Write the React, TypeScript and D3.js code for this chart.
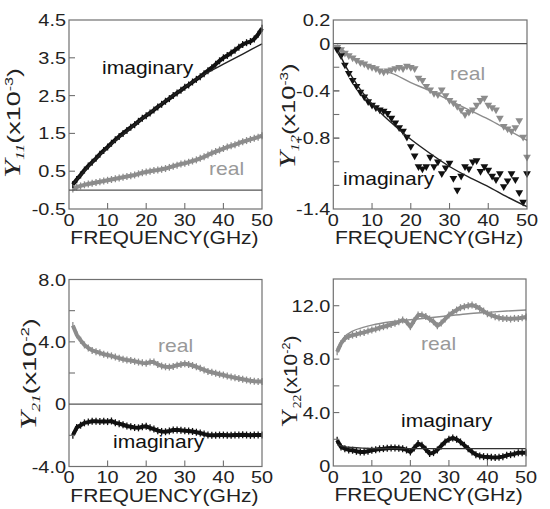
import React from "react";
import * as d3 from "d3";

// ---------- data ----------
const FREQ = [1,2,3,4,5,6,7,8,9,10,11,12,13,14,15,16,17,18,19,20,21,22,23,24,25,26,27,28,29,30,31,32,33,34,35,36,37,38,39,40,41,42,43,44,45,46,47,48,49,50];
const X_TICK_LABELS = [0, 10, 20, 30, 40, 50];
const X_TICKS = [10, 20, 30, 40];

// Y11 (x10^-3)
const Y11_IMAG = [0.15,0.28,0.4,0.53,0.64,0.74,0.84,0.95,1.05,1.14,1.24,1.33,1.42,1.5,1.58,1.66,1.73,1.82,1.9,1.97,2.04,2.12,2.2,2.27,2.35,2.42,2.5,2.57,2.64,2.72,2.78,2.86,2.93,3.0,3.08,3.16,3.24,3.33,3.42,3.5,3.56,3.63,3.7,3.78,3.85,3.9,3.93,4.0,4.12,4.28];
const Y11_REAL = [0.03,0.08,0.11,0.14,0.16,0.18,0.2,0.22,0.24,0.26,0.28,0.3,0.32,0.34,0.36,0.38,0.4,0.43,0.46,0.48,0.5,0.52,0.53,0.55,0.57,0.6,0.63,0.66,0.69,0.71,0.74,0.77,0.8,0.84,0.88,0.93,0.98,1.02,1.06,1.1,1.14,1.17,1.2,1.24,1.28,1.31,1.34,1.37,1.4,1.44];
const Y11_FIT_F = [1, 5, 10, 20, 30, 35, 40, 45, 50];
const Y11_IMAG_FIT = [0.15, 0.62, 1.12, 1.97, 2.72, 3.06, 3.33, 3.6, 3.87];
const Y11_TICKS = [4.5, 3.5, 2.5, 1.5, 0.5, -0.5];

// Y12 (x10^-3)
const Y12_IMAG = [-0.05,-0.1,-0.18,-0.25,-0.31,-0.36,-0.41,-0.45,-0.49,-0.52,-0.54,-0.56,-0.57,-0.59,-0.63,-0.67,-0.71,-0.74,-0.79,-0.87,-0.95,-1.04,-1.06,-1.04,-0.96,-1.04,-1.0,-1.1,-1.05,-1.01,-1.14,-1.24,-1.12,-1.04,-1.06,-1.0,-0.99,-1.08,-1.04,-1.07,-1.12,-1.15,-1.1,-1.21,-1.16,-1.1,-1.15,-1.26,-1.34,-1.1];
const Y12_REAL = [-0.03,-0.05,-0.08,-0.1,-0.12,-0.14,-0.16,-0.17,-0.19,-0.2,-0.21,-0.23,-0.24,-0.23,-0.22,-0.21,-0.2,-0.21,-0.19,-0.2,-0.21,-0.29,-0.31,-0.36,-0.39,-0.42,-0.43,-0.39,-0.44,-0.48,-0.5,-0.53,-0.56,-0.6,-0.58,-0.56,-0.52,-0.48,-0.46,-0.52,-0.54,-0.56,-0.63,-0.7,-0.72,-0.74,-0.71,-0.65,-0.79,-0.96];
const Y12_FIT_F = [1, 3, 5, 7, 10, 13, 15, 20, 25, 30, 35, 40, 45, 50];
const Y12_IMAG_FIT = [-0.04,-0.18,-0.29,-0.39,-0.51,-0.61,-0.67,-0.81,-0.93,-1.04,-1.13,-1.21,-1.3,-1.38];
const Y12_REAL_FIT = [-0.01,-0.07,-0.12,-0.16,-0.2,-0.23,-0.25,-0.33,-0.4,-0.48,-0.56,-0.64,-0.73,-0.82];
const Y12_TICKS = [0.2, 0, -0.4, -0.8, -1.4];
const Y12_MINOR = [-0.2, -0.4, -0.6, -0.8, -1.0, -1.2];

// Y21 (x10^-2)
const Y21_REAL = [5.05,4.45,4.1,3.8,3.6,3.45,3.37,3.3,3.2,3.15,3.1,3.02,2.95,2.88,2.83,2.8,2.75,2.7,2.65,2.62,2.7,2.7,2.55,2.45,2.4,2.38,2.42,2.5,2.55,2.6,2.55,2.48,2.4,2.3,2.2,2.1,2.05,1.98,1.92,1.87,1.8,1.75,1.7,1.65,1.6,1.55,1.5,1.47,1.46,1.46];
const Y21_IMAG = [-2.0,-1.5,-1.35,-1.2,-1.15,-1.1,-1.1,-1.12,-1.1,-1.12,-1.08,-1.2,-1.25,-1.32,-1.4,-1.45,-1.5,-1.52,-1.45,-1.42,-1.52,-1.6,-1.7,-1.75,-1.77,-1.72,-1.65,-1.65,-1.68,-1.7,-1.72,-1.75,-1.8,-1.85,-1.92,-1.98,-2.0,-2.0,-1.98,-1.98,-2.0,-2.0,-1.98,-1.98,-1.97,-1.98,-2.0,-1.98,-1.98,-1.98];
const Y21_TICKS = [8, 4, 0, -4];
const Y21_TICK_TEXT = ["8.0", "4.0", "0", "-4.0"];
const Y21_MINOR = [6, 2, -2];

// Y22 (x10^-2)
const Y22_REAL = [8.55,9.18,9.55,9.7,9.8,9.85,9.95,10.0,10.1,10.18,10.25,10.35,10.43,10.5,10.6,10.68,10.8,10.93,10.8,10.43,10.9,11.3,11.3,11.2,11.0,10.8,10.5,10.7,11.0,11.3,11.5,11.68,11.85,11.93,12.0,12.05,11.95,11.8,11.6,11.4,11.3,11.18,11.1,11.05,11.05,11.0,11.05,11.05,11.1,11.15];
const Y22_IMAG = [1.93,1.43,1.3,1.2,1.18,1.1,1.05,1.05,1.1,1.18,1.22,1.28,1.3,1.33,1.35,1.35,1.33,1.3,1.2,1.05,1.35,1.68,1.55,1.25,0.93,1.0,1.2,1.5,1.8,2.0,2.1,2.0,1.8,1.55,1.3,1.05,0.85,0.75,0.7,0.68,0.65,0.63,0.65,0.7,0.8,0.85,0.9,1.0,1.0,1.0];
const Y22_FIT_F = [1, 3, 5, 8, 10, 15, 20, 25, 30, 35, 40, 45, 50];
const Y22_REAL_FIT = [8.8,9.7,10.1,10.4,10.55,10.8,10.95,11.1,11.25,11.4,11.5,11.6,11.68];
const Y22_IMAG_FIT = [1.6,1.45,1.38,1.33,1.31,1.3,1.3,1.3,1.3,1.3,1.3,1.3,1.3];
const Y22_TICKS = [12, 8, 4, 0];
const Y22_TICK_TEXT = ["12.0", "8.0", "4.0", "0"];
const Y22_MINOR = [10, 6, 2];

// ---------- style ----------
const SX = 1.17;
const SANS = "'Liberation Sans', Arial, Helvetica, sans-serif";
const SERIF = "'Liberation Serif', 'Times New Roman', serif";
const BLACK = "#111";
const GRAY = "#8c8c8c";
const AXIS = "#707070";

type Series = { xs: number[]; ys: number[]; kind: "band" | "fit" | "tri"; color: string };
type Label = { text: string; x: number; y: number; color: string };
type Cfg = {
  x0: number; x1: number; y0: number; y1: number;
  yDomain: [number, number];
  ticks: number[]; tickText: string[]; minor: number[];
  zero: boolean;
  series: Series[];
  labels: Label[];
  yl: { bx: number; cy: number; sub: string; sup: string; italic: boolean; len: number };
};

function T({ x, y, anchor = "start", size = 17, fill = "#222", children }: any) {
  return (
    <text transform={`translate(${x},${y}) scale(${SX},1)`} textAnchor={anchor}
      fontSize={size} fontFamily={SANS} fill={fill}>{children}</text>
  );
}

function YLabel({ bx, cy, sub, sup, italic, len }: any) {
  return (
    <text transform={`translate(${bx},${cy}) rotate(-90) scale(${len},0.92)`} textAnchor="middle" fill="#222">
      <tspan fontFamily={SERIF} fontStyle={italic ? "italic" : "normal"} fontSize={24}>Y</tspan>
      <tspan fontFamily={SERIF} fontStyle={italic ? "italic" : "normal"} fontSize={13} dy={4}>{sub}</tspan>
      <tspan fontFamily={SANS} fontSize={20} dy={-4}>(x10</tspan>
      <tspan fontFamily={SANS} fontSize={12} dy={-8}>{sup}</tspan>
      <tspan fontFamily={SANS} fontSize={20} dy={8}>)</tspan>
    </text>
  );
}

function Panel({ c }: { c: Cfg }) {
  const x = d3.scaleLinear().domain([0, 50]).range([c.x0, c.x1]);
  const y = d3.scaleLinear().domain(c.yDomain).range([c.y1, c.y0]);
  const mk = (s: Series) =>
    d3.line<number>().x((d, i) => x(s.xs[i])).y((d) => y(d)).curve(s.kind === "fit" ? d3.curveMonotoneX : d3.curveLinear)(s.ys) || "";
  const tri = d3.symbol().type(d3.symbolTriangle).size(26);
  return (
    <g>
      {c.series.map((s, k) => {
        if (s.kind === "band") {
          return (
            <g key={k}>
              <path d={mk(s)} fill="none" stroke={s.color} strokeWidth={4} strokeLinejoin="round" />
              {s.ys.map((v, i) => (
                <line key={i} x1={x(s.xs[i])} x2={x(s.xs[i])} y1={y(v) - 3.5} y2={y(v) + 3.5} stroke={s.color} strokeWidth={1.3} />
              ))}
            </g>
          );
        }
        if (s.kind === "tri") {
          return (
            <g key={k}>
              {s.ys.map((v, i) => (
                <path key={i} d={tri() || ""} transform={`translate(${x(s.xs[i])},${y(v)}) rotate(180)`} fill={s.color} />
              ))}
            </g>
          );
        }
        return <path key={k} d={mk(s)} fill="none" stroke={s.color} strokeWidth={1.4} />;
      })}
      <rect x={c.x0} y={c.y0} width={c.x1 - c.x0} height={c.y1 - c.y0} fill="none" stroke={AXIS} strokeWidth={1.2} />
      {c.zero && <line x1={c.x0} x2={c.x1} y1={y(0)} y2={y(0)} stroke="#555" strokeWidth={1.1} />}
      {c.minor.map((t) => (
        <line key={"m" + t} x1={c.x0} x2={c.x0 + 6} y1={y(t)} y2={y(t)} stroke={AXIS} strokeWidth={1.1} />
      ))}
      {c.ticks.map((t, i) => (
        <g key={"t" + t}>
          {t > c.yDomain[0] && t < c.yDomain[1] && t !== 0 && (
            <line x1={c.x0} x2={c.x0 + 6} y1={y(t)} y2={y(t)} stroke={AXIS} strokeWidth={1.1} />
          )}
          <T x={c.x0 - 3} y={y(t) + 6} anchor="end">{c.tickText[i]}</T>
        </g>
      ))}
      {X_TICKS.map((t) => (
        <line key={"x" + t} x1={x(t)} x2={x(t)} y1={c.y1} y2={c.y1 - 6} stroke={AXIS} strokeWidth={1.1} />
      ))}
      {X_TICK_LABELS.map((t) => (
        <T key={"xl" + t} x={x(t)} y={c.y1 + 16.5} anchor="middle">{String(t)}</T>
      ))}
      <T x={(c.x0 + c.x1) / 2 - 1} y={c.y1 + 35} anchor="middle" size={18}>FREQUENCY(GHz)</T>
      {c.labels.map((l, i) => (
        <T key={"l" + i} x={l.x} y={l.y} size={18} fill={l.color}>{l.text}</T>
      ))}
      <YLabel {...c.yl} />
    </g>
  );
}

const panels: Cfg[] = [
  {
    x0: 69, x1: 262, y0: 20, y1: 209, yDomain: [-0.5, 4.5],
    ticks: Y11_TICKS, tickText: Y11_TICKS.map((t) => t.toFixed(1)), minor: [], zero: true,
    series: [
      { xs: FREQ, ys: Y11_REAL, kind: "band", color: GRAY },
      { xs: FREQ, ys: Y11_IMAG, kind: "band", color: BLACK },
      { xs: Y11_FIT_F, ys: Y11_IMAG_FIT, kind: "fit", color: "#222" },
    ],
    labels: [
      { text: "imaginary", x: 102, y: 74, color: BLACK },
      { text: "real", x: 209, y: 175, color: "#999" },
    ],
    yl: { bx: 20, cy: 123, sub: "11", sup: "-3", italic: true, len: 1.35 },
  },
  {
    x0: 333.3, x1: 527, y0: 20, y1: 209, yDomain: [-1.4, 0.2],
    ticks: Y12_TICKS, tickText: ["0.2", "0", "-0.4", "-0.8", "-1.4"], minor: Y12_MINOR, zero: true,
    series: [
      { xs: FREQ, ys: Y12_REAL, kind: "tri", color: GRAY },
      { xs: Y12_FIT_F, ys: Y12_REAL_FIT, kind: "fit", color: GRAY },
      { xs: FREQ, ys: Y12_IMAG, kind: "tri", color: BLACK },
      { xs: Y12_FIT_F, ys: Y12_IMAG_FIT, kind: "fit", color: "#222" },
    ],
    labels: [
      { text: "real", x: 450, y: 80, color: "#999" },
      { text: "imaginary", x: 343, y: 185, color: BLACK },
    ],
    yl: { bx: 295, cy: 116, sub: "12", sup: "-3", italic: true, len: 1.27 },
  },
  {
    x0: 69, x1: 262, y0: 279.5, y1: 466.5, yDomain: [-4, 8],
    ticks: Y21_TICKS, tickText: Y21_TICK_TEXT, minor: Y21_MINOR, zero: true,
    series: [
      { xs: FREQ, ys: Y21_REAL, kind: "band", color: GRAY },
      { xs: FREQ, ys: Y21_IMAG, kind: "band", color: BLACK },
    ],
    labels: [
      { text: "real", x: 158, y: 352, color: "#999" },
      { text: "imaginary", x: 113, y: 448, color: BLACK },
    ],
    yl: { bx: 36, cy: 374, sub: "21", sup: "-2", italic: true, len: 1.35 },
  },
  {
    x0: 333.3, x1: 526, y0: 279, y1: 466, yDomain: [0, 14],
    ticks: Y22_TICKS, tickText: Y22_TICK_TEXT, minor: Y22_MINOR, zero: false,
    series: [
      { xs: FREQ, ys: Y22_REAL, kind: "band", color: GRAY },
      { xs: Y22_FIT_F, ys: Y22_REAL_FIT, kind: "fit", color: GRAY },
      { xs: FREQ, ys: Y22_IMAG, kind: "band", color: BLACK },
      { xs: Y22_FIT_F, ys: Y22_IMAG_FIT, kind: "fit", color: "#333" },
    ],
    labels: [
      { text: "real", x: 421, y: 350, color: "#999" },
      { text: "imaginary", x: 401, y: 427, color: BLACK },
    ],
    yl: { bx: 297, cy: 381, sub: "22", sup: "-2", italic: false, len: 1.05 },
  },
];

export default function App() {
  return (
    <svg width={550} height={509} style={{ position: "absolute", left: 0, top: 0, background: "#fff" }}>
      <rect width={550} height={509} fill="#fff" />
      {panels.map((p, i) => <Panel key={i} c={p} />)}
    </svg>
  );
}
